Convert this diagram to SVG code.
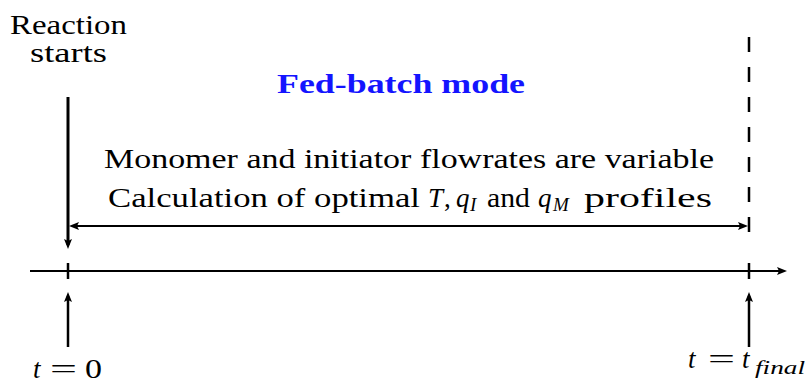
<svg xmlns="http://www.w3.org/2000/svg" width="807" height="383" viewBox="0 0 807 383">
<style>
text{font-family:"Liberation Serif","Times New Roman","DejaVu Serif",serif;font-size:27px;fill:#000}
.it{font-style:italic}
.sub{font-style:italic;font-size:19px}
.title{font-weight:bold;fill:#1414ff}
.ln{stroke:#000;fill:none}
</style>
<defs>
<marker id="ah" viewBox="0 -5 10 10" refX="6" refY="0" markerWidth="10" markerHeight="10" markerUnits="userSpaceOnUse" orient="auto-start-reverse">
<path d="M0,-4 L10,0 L0,4 L2,0 z" fill="#000"/>
</marker>
</defs>
<rect width="807" height="383" fill="#fff"/>
<g id="connectors">
<line class="ln" x1="68" y1="97" x2="68" y2="245" stroke-width="3" marker-end="url(#ah)"/>
<line class="ln" x1="73" y1="226" x2="744" y2="226" stroke-width="2" marker-start="url(#ah)" marker-end="url(#ah)"/>
<line class="ln" x1="30" y1="271" x2="783" y2="271" stroke-width="2" marker-end="url(#ah)"/>
<line class="ln" x1="68" y1="263" x2="68" y2="279" stroke-width="2.5"/>
<line class="ln" x1="749" y1="263" x2="749" y2="279" stroke-width="2.5"/>
<line class="ln" x1="749" y1="37" x2="749" y2="232" stroke-width="2.5" stroke-dasharray="15 15"/>
<line class="ln" x1="68" y1="347" x2="68" y2="296" stroke-width="2.5" marker-end="url(#ah)"/>
<line class="ln" x1="749" y1="347" x2="749" y2="296" stroke-width="2.5" marker-end="url(#ah)"/>
</g>
<g id="reaction-label">
<text x="10" y="34" textLength="117" lengthAdjust="spacingAndGlyphs">Reaction</text>
<text x="30" y="62" textLength="77" lengthAdjust="spacingAndGlyphs">starts</text>
</g>
<g id="title">
<text class="title" x="277" y="93" textLength="248" lengthAdjust="spacingAndGlyphs">Fed-batch mode</text>
</g>
<g id="description">
<text x="104" y="168" textLength="610" lengthAdjust="spacingAndGlyphs">Monomer and initiator flowrates are variable</text>
<text x="108" y="207" textLength="312" lengthAdjust="spacingAndGlyphs">Calculation of optimal</text>
<text class="it" x="428" y="207">T</text>
<text x="444" y="207">,</text>
<text class="it" x="456" y="207">q</text>
<text class="sub" x="470" y="211">I</text>
<text x="487" y="207" textLength="43" lengthAdjust="spacingAndGlyphs">and</text>
<text class="it" x="538" y="207">q</text>
<text class="sub" x="553" y="211">M</text>
<text x="584" y="207" textLength="128" lengthAdjust="spacingAndGlyphs">profiles</text>
</g>
<g id="t0-label">
<text class="it" x="33" y="378">t</text>
<text x="50" y="378" textLength="27" lengthAdjust="spacingAndGlyphs">=</text>
<text x="85" y="378" textLength="17" lengthAdjust="spacingAndGlyphs">0</text>
</g>
<g id="tfinal-label">
<text class="it" x="688" y="368">t</text>
<text x="708" y="368" textLength="27" lengthAdjust="spacingAndGlyphs">=</text>
<text class="it" x="742" y="368">t</text>
<text class="sub" x="755" y="374" textLength="50" lengthAdjust="spacingAndGlyphs">final</text>
</g>
</svg>
